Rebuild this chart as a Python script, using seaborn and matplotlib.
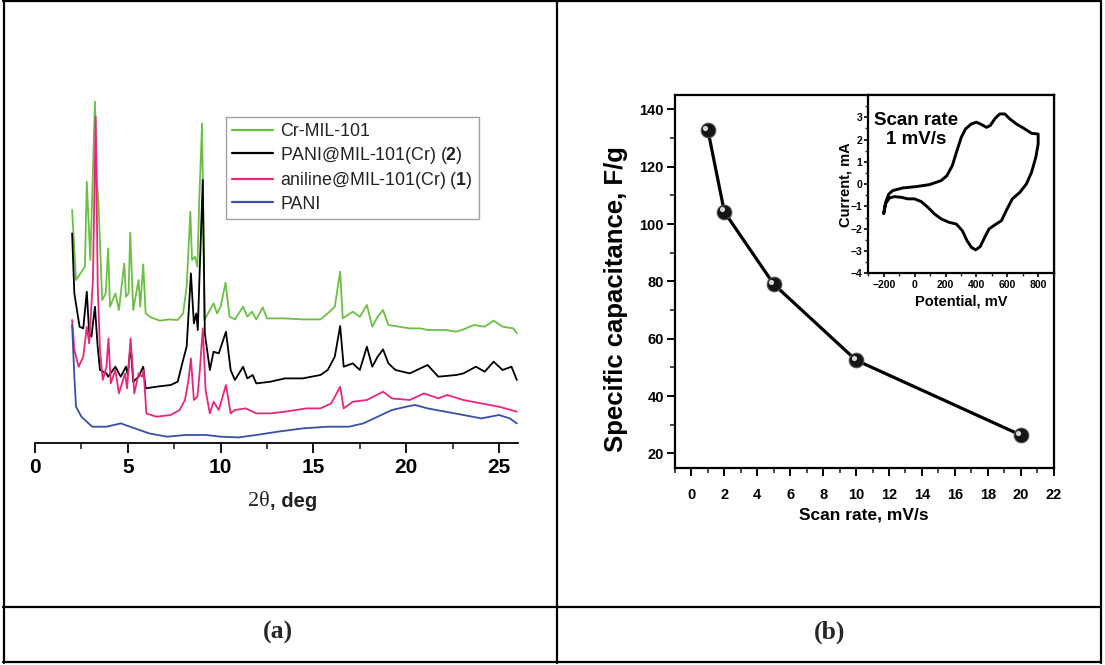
import matplotlib
matplotlib.use("Agg")
import numpy as np
import pandas as pd
import seaborn as sns
import matplotlib.pyplot as plt
import matplotlib.transforms as mtransforms
from matplotlib.lines import Line2D
from matplotlib.ticker import MultipleLocator

# ---------------- data: panel (a) XRD patterns ----------------
sample_labels = ["Cr-MIL-101", r"PANI@MIL-101(Cr) ($\mathbf{2}$)",
                 r"aniline@MIL-101(Cr) ($\mathbf{1}$)", "PANI"]
sample_colors = ["#6cbf45", "#000000", "#e8267c", "#3b4ea6"]

green_x = [2.00, 2.21, 2.69, 2.79, 2.98, 3.23, 3.33, 3.42, 3.62, 3.81, 3.94, 4.04, 4.33, 4.52,
           4.81, 4.90, 5.04, 5.13, 5.29, 5.58, 5.67, 5.83, 5.96, 6.25, 6.73, 7.21, 7.69, 7.98,
           8.17, 8.37, 8.46, 8.62, 8.75, 8.85, 9.00, 9.13, 9.42, 9.62, 9.81, 10.00, 10.27,
           10.48, 10.77, 11.21, 11.44, 11.69, 11.92, 12.27, 12.50, 13.46, 14.42, 15.38, 15.77,
           16.15, 16.44, 16.58, 17.12, 17.50, 17.88, 18.17, 18.46, 18.75, 19.04, 19.62, 20.19,
           20.77, 21.15, 22.12, 22.69, 23.08, 23.65, 24.23, 24.71, 25.19, 25.77, 25.96]
green_y = [232.7, 162.7, 176.0, 261.0, 182.7, 341.0, 262.7, 239.3, 142.7, 149.3, 194.3, 136.0,
           149.3, 132.7, 179.3, 146.0, 149.3, 210.0, 132.7, 162.7, 136.0, 178.3, 129.3, 125.3,
           122.0, 123.3, 122.7, 129.3, 156.0, 231.0, 182.7, 186.0, 176.0, 242.7, 319.3, 122.7,
           132.7, 139.3, 129.3, 136.0, 160.0, 126.0, 123.3, 136.0, 126.0, 131.0, 123.3, 135.3,
           124.3, 124.3, 123.3, 123.3, 129.3, 136.0, 171.0, 124.3, 131.0, 126.0, 137.7, 116.0,
           126.0, 132.7, 117.7, 116.0, 114.3, 114.3, 112.7, 112.7, 111.0, 113.3, 117.7, 116.0,
           122.0, 116.0, 114.3, 109.3]

black_x = [2.00, 2.12, 2.40, 2.60, 2.79, 2.92, 3.04, 3.23, 3.37, 3.50, 3.85, 3.94, 4.33, 4.62,
           4.90, 5.00, 5.15, 5.29, 5.58, 5.83, 5.96, 6.54, 7.31, 7.69, 7.98, 8.17, 8.40, 8.56,
           8.69, 8.77, 8.88, 9.04, 9.15, 9.42, 9.62, 9.90, 10.29, 10.54, 10.77, 11.21, 11.44,
           11.73, 11.92, 12.69, 13.46, 14.42, 15.38, 15.77, 16.15, 16.44, 16.63, 17.12, 17.50,
           17.88, 18.17, 18.46, 18.75, 19.04, 19.42, 20.19, 21.15, 21.73, 22.69, 23.08, 23.75,
           24.23, 24.71, 25.19, 25.67, 25.96]
black_y = [209.3, 149.3, 116.0, 114.3, 151.0, 109.3, 106.0, 136.0, 97.3, 72.7, 69.3, 66.0, 76.0,
           66.0, 76.0, 67.7, 97.7, 61.0, 66.0, 76.0, 54.3, 56.0, 57.7, 61.0, 82.7, 96.0, 169.3,
           119.3, 129.3, 112.7, 176.0, 262.7, 109.3, 72.7, 91.0, 89.3, 111.0, 72.7, 62.7, 76.0,
           64.3, 67.7, 59.3, 61.0, 64.3, 64.3, 67.7, 72.7, 86.0, 116.7, 76.0, 79.3, 72.7, 96.0,
           76.0, 86.0, 93.3, 79.3, 72.7, 69.3, 77.7, 66.0, 67.7, 69.3, 76.0, 71.0, 81.0, 72.7,
           76.0, 62.7]

pink_x = [2.00, 2.12, 2.35, 2.60, 2.79, 2.92, 3.12, 3.27, 3.38, 3.50, 3.65, 3.85, 3.96, 4.08,
          4.33, 4.52, 4.85, 4.96, 5.15, 5.35, 5.58, 5.77, 5.85, 6.00, 6.54, 7.31, 7.79, 8.08,
          8.27, 8.40, 8.56, 8.75, 8.88, 9.04, 9.19, 9.42, 9.62, 9.90, 10.29, 10.54, 10.77,
          11.35, 11.92, 12.69, 13.46, 14.62, 15.38, 15.96, 16.44, 16.63, 17.12, 17.88, 18.75,
          19.23, 20.19, 20.96, 21.73, 22.21, 23.08, 24.04, 25.00, 25.96]
pink_y = [122.7, 92.7, 76.0, 86.0, 116.0, 99.3, 162.7, 326.0, 156.0, 92.7, 62.7, 76.0, 104.3,
          59.3, 72.7, 49.3, 69.3, 54.3, 104.3, 49.3, 69.3, 66.0, 72.7, 29.3, 26.0, 27.7, 32.7,
          42.7, 62.7, 84.3, 42.7, 46.0, 72.7, 114.3, 52.7, 29.3, 41.0, 32.7, 57.7, 29.3, 32.7,
          34.3, 29.3, 29.3, 31.0, 34.3, 34.3, 39.3, 56.0, 34.3, 41.0, 42.7, 51.0, 44.3, 42.7,
          49.3, 44.3, 47.7, 42.7, 39.3, 36.0, 31.0]

blue_x = [2.00, 2.12, 2.21, 2.50, 3.08, 3.85, 4.62, 5.38, 6.15, 7.12, 8.08, 9.23, 10.00, 10.96,
          11.92, 13.08, 14.42, 15.77, 16.92, 17.69, 18.46, 19.23, 20.00, 20.48, 21.15, 22.12,
          23.08, 24.04, 25.00, 25.58, 25.96]
blue_y = [117.7, 66.0, 36.0, 26.0, 16.0, 16.0, 19.3, 14.3, 9.3, 6.0, 7.7, 7.7, 6.0, 5.3, 7.7,
          11.0, 14.3, 16.0, 16.0, 19.3, 26.0, 32.7, 36.0, 37.7, 34.3, 31.0, 27.7, 24.3, 27.7,
          24.3, 19.3]

xrd_ticks = [0, 5, 10, 15, 20, 25]

# ---------------- data: panel (b) ----------------
scan_rate = [1, 2, 5, 10, 20]
capacitance = [132.7, 104.2, 79.0, 52.5, 26.4]
rate_ticks = [0, 2, 4, 6, 8, 10, 12, 14, 16, 18, 20, 22]
cap_ticks = [20, 40, 60, 80, 100, 120, 140]

cv_potential = [-200, -187, -168, -142, -77, 10, 97, 172, 209, 244, 274, 302, 330, 367, 400,
                426, 465, 490, 519, 551, 584, 616, 659, 713, 757, 800, 800, 785, 757, 724, 681,
                633, 599, 562, 519, 482, 454, 425, 395, 367, 339, 309, 270, 222, 172, 129, 86,
                42, -1, -44, -87, -131, -163, -189, -200]
cv_current = [-1.31, -0.80, -0.45, -0.29, -0.17, -0.11, -0.02, 0.16, 0.38, 0.83, 1.50, 2.10,
              2.48, 2.70, 2.78, 2.70, 2.55, 2.63, 2.93, 3.15, 3.15, 2.93, 2.70, 2.48, 2.28,
              2.25, 1.80, 1.21, 0.53, 0.01, -0.37, -0.66, -1.11, -1.64, -1.83, -2.01, -2.38,
              -2.80, -2.95, -2.83, -2.53, -2.09, -1.79, -1.71, -1.56, -1.34, -1.04, -0.78,
              -0.66, -0.66, -0.59, -0.56, -0.62, -0.89, -1.31]
cv_xticks = [-200, 0, 200, 400, 600, 800]
cv_yticks = [-4, -3, -2, -1, 0, 1, 2, 3]

# ---------------- style ----------------
sns.set_theme(style="white")
plt.rcParams["font.family"] = ["Liberation Sans", "DejaVu Sans"]
plt.rcParams["mathtext.fontset"] = "custom"
plt.rcParams["mathtext.rm"] = "Liberation Sans"
plt.rcParams["mathtext.bf"] = "Liberation Sans:bold"

W, H = 1105, 665
fig = plt.figure(figsize=(W / 100, H / 100), dpi=100)
fig.patch.set_facecolor("white")


def frame(l, t, r, b):
    return [l / W, 1 - b / H, (r - l) / W, (b - t) / H]


def bold_ticks(ax, size):
    for lab in ax.get_xticklabels() + ax.get_yticklabels():
        lab.set_fontweight("bold")
        lab.set_fontsize(size)


# ---------------- panel (a) ----------------
axA = fig.add_axes(frame(35, 92.7, 517.6, 442.7))
xrd = pd.concat([
    pd.DataFrame({"two_theta": green_x, "intensity": green_y, "sample": sample_labels[0]}),
    pd.DataFrame({"two_theta": black_x, "intensity": black_y, "sample": sample_labels[1]}),
    pd.DataFrame({"two_theta": pink_x, "intensity": pink_y, "sample": sample_labels[2]}),
    pd.DataFrame({"two_theta": blue_x, "intensity": blue_y, "sample": sample_labels[3]}),
])
sns.lineplot(data=xrd, x="two_theta", y="intensity", hue="sample", hue_order=sample_labels,
             palette=sample_colors, sort=False, estimator=None, linewidth=1.3, ax=axA,
             legend=False)
axA.set_xlim(0, 26)
axA.set_ylim(0, 350)
for s in ["left", "top", "right"]:
    axA.spines[s].set_visible(False)
axA.spines["bottom"].set_color("black")
axA.spines["bottom"].set_linewidth(1.3)
axA.set_xticks(xrd_ticks)
axA.xaxis.set_minor_locator(MultipleLocator(2.5))
axA.set_yticks([])
axA.tick_params(axis="x", which="major", direction="out", length=7, width=1.3, pad=4,
                colors="black", bottom=True)
axA.tick_params(axis="x", which="minor", direction="out", length=4, width=1.2, bottom=True)
bold_ticks(axA, 15)
axA.set_xlabel("")
axA.set_ylabel("")
# axis title: "2θ" in serif, ", deg" in bold sans
axA.text(0.486, -59 / 350, "2θ", transform=axA.transAxes, ha="right", va="center",
         fontsize=16, family="Liberation Serif", color="#222222")
axA.text(0.486, -59 / 350, ", deg", transform=axA.transAxes, ha="left", va="center",
         fontsize=14.5, fontweight="bold", color="#222222")
handles = [Line2D([], [], color=c, lw=1.6) for c in sample_colors]
leg = axA.legend(handles, sample_labels, loc="upper left",
                 bbox_to_anchor=(226 / W, 1 - 117 / H), bbox_transform=fig.transFigure,
                 borderaxespad=0, fontsize=12.8, frameon=True, fancybox=False,
                 handlelength=2.3, handletextpad=0.4, labelspacing=0.25, borderpad=0.35)
leg.get_frame().set_edgecolor("#8a8a8a")
leg.get_frame().set_linewidth(1.0)
for t in leg.get_texts():
    t.set_color("#222222")

# ---------------- panel (b) main ----------------
axB = fig.add_axes(frame(675, 95, 1053.6, 468.3))
sns.lineplot(x=scan_rate, y=capacitance, color="black", linewidth=2.3, ax=axB, zorder=2)
sns.scatterplot(x=scan_rate, y=capacitance, s=110, color="#141414", edgecolor="#505050",
                linewidth=0.8, ax=axB, zorder=3)
hl = mtransforms.offset_copy(axB.transData, fig=fig, x=-1.8, y=1.8, units="points")
sns.scatterplot(x=scan_rate, y=capacitance, s=14, color="#d8d8d8", linewidth=0,
                ax=axB, zorder=4, transform=hl)
axB.set_xlim(-1.0, 22)
axB.set_ylim(14.8, 145)
axB.set_xticks(rate_ticks)
axB.set_yticks(cap_ticks)
axB.xaxis.set_minor_locator(MultipleLocator(1))
axB.yaxis.set_minor_locator(MultipleLocator(10))
for s in axB.spines.values():
    s.set_color("black")
    s.set_linewidth(1.6)
axB.tick_params(which="major", direction="out", length=6, width=1.4, colors="black",
                left=True, bottom=True, top=False, right=False)
axB.tick_params(which="minor", direction="out", length=3.5, width=1.2,
                left=True, bottom=True, top=False, right=False)
axB.tick_params(axis="x", which="major", pad=8)
axB.tick_params(axis="y", which="major", pad=2)
bold_ticks(axB, 10.5)
axB.set_xlabel("Scan rate, mV/s", fontsize=12.5, fontweight="bold", color="black")
axB.xaxis.label.set_va("center")
axB.xaxis.set_label_coords(0.5, (468.3 - 515) / 373.3)
axB.set_ylabel("Specific capacitance, F/g", fontsize=18.5, fontweight="bold", color="black")
axB.yaxis.label.set_va("center")
axB.yaxis.set_label_coords((615.5 - 675) / 378.6, (468.3 - 299) / 373.3)

# ---------------- panel (b) inset ----------------
axC = fig.add_axes(frame(868.3, 95, 1053.6, 273.3))
axC.set_facecolor("white")
cv = pd.DataFrame({"potential": cv_potential, "current": cv_current})
sns.lineplot(data=cv, x="potential", y="current", sort=False, estimator=None, color="black",
             linewidth=2.1, ax=axC)
axC.set_xlim(-300, 900)
axC.set_ylim(-4, 4.0)
axC.set_xticks(cv_xticks)
axC.set_yticks(cv_yticks)
axC.xaxis.set_minor_locator(MultipleLocator(100))
axC.yaxis.set_minor_locator(MultipleLocator(0.5))
for s in axC.spines.values():
    s.set_color("black")
    s.set_linewidth(1.6)
axC.tick_params(which="major", direction="out", length=3, width=1.2, colors="black",
                left=True, bottom=True, top=False, right=False, pad=1.5)
axC.tick_params(which="minor", direction="out", length=2, width=1.0,
                left=True, bottom=True, top=False, right=False)
bold_ticks(axC, 7.5)
axC.set_xlabel("Potential, mV", fontsize=10.5, fontweight="bold", color="black")
axC.xaxis.label.set_va("center")
axC.xaxis.set_label_coords(0.5, (273.3 - 302) / 178.3)
axC.set_ylabel("Current, mA", fontsize=10.5, fontweight="bold", color="black")
axC.yaxis.label.set_va("center")
axC.yaxis.set_label_coords((845 - 868.3) / 185.3, 0.5)
axC.text(10, 2.45, "Scan rate\n1 mV/s", ha="center", va="center", fontsize=13.5,
         fontweight="bold", linespacing=1.15, color="black")

# ---------------- table frame and captions ----------------
def hline(y, x0, x1):
    fig.add_artist(Line2D([x0 / W, x1 / W], [1 - y / H, 1 - y / H], transform=fig.transFigure,
                          color="black", lw=1.6))


def vline(x, y0, y1):
    fig.add_artist(Line2D([x / W, x / W], [1 - y0 / H, 1 - y1 / H], transform=fig.transFigure,
                          color="black", lw=1.6))


hline(1.0, 3, 1101)
hline(606.5, 3, 1101)
hline(662, 3, 1101)
vline(3.5, 0.5, 662.5)
vline(556.5, 0.5, 662.5)
vline(1100.5, 0.5, 662.5)
fig.text(278 / W, 1 - 632 / H, "(a)", ha="center", va="center", fontsize=18.5,
         fontweight="bold", family="Liberation Serif")
fig.text(830 / W, 1 - 632 / H, "(b)", ha="center", va="center", fontsize=18.5,
         fontweight="bold", family="Liberation Serif")

fig.savefig("out.png", dpi=100, facecolor="white")
